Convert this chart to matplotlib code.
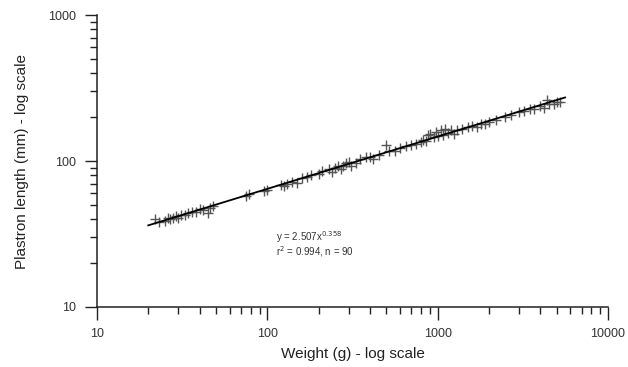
import matplotlib.pyplot as plt
import numpy as np

plt.rcParams['font.family'] = ['Liberation Sans', 'DejaVu Sans']

# weight (g) and plastron length (mm)
weight = [22, 23, 25, 26, 27, 28, 29, 30, 31, 33,
          34, 36, 38, 40, 42, 45, 46, 48, 75, 78,
          95, 100, 120, 125, 130, 140, 150, 160, 170, 180,
          200, 210, 230, 240, 250, 260, 270, 280, 290, 300,
          310, 330, 350, 380, 400, 420, 450, 500, 520, 560,
          600, 650, 700, 750, 800, 820, 850, 880, 900, 950,
          980, 1000, 1050, 1080, 1100, 1150, 1200, 1250, 1300, 1400,
          1500, 1600, 1700, 1800, 1900, 2000, 2200, 2500, 2700, 3000,
          3200, 3500, 3700, 4000, 4200, 4400, 4500, 4800, 5000, 5200]
plastron = [40, 38, 39, 41, 40, 41, 42, 41, 43, 43,
            44, 45, 45, 47, 46, 44, 48, 49, 58, 59,
            62, 63, 68, 67, 70, 72, 71, 76, 78, 80,
            82, 85, 88, 84, 90, 92, 88, 93, 97, 99,
            92, 97, 104, 107, 106, 104, 110, 128, 118, 117,
            122, 126, 129, 131, 136, 140, 138, 150, 152, 145,
            158, 148, 162, 150, 165, 156, 164, 154, 162, 166,
            170, 174, 170, 180, 178, 186, 192, 200, 208, 216,
            220, 228, 226, 238, 232, 262, 245, 244, 255, 252]

# fitted power law as drawn in the figure
fit_a = 12.4
fit_b = 0.358
fit_x = np.array([20, 5600])

fig = plt.figure(figsize=(6.28, 3.67), dpi=100)
ax = fig.add_axes([0.1545, 0.1635, 0.8135, 0.7955])

ax.plot(weight, plastron, '+', color='#555555', markersize=7, markeredgewidth=1.0)
ax.plot(fit_x, fit_a * fit_x ** fit_b, color='black', linewidth=1.3)

ax.set_xscale('log')
ax.set_yscale('log')
ax.set_xlim(10, 10000)
ax.set_ylim(10, 1000)

for s in ['top', 'right']:
    ax.spines[s].set_visible(False)
for s in ['left', 'bottom']:
    ax.spines[s].set_linewidth(1.1)
    ax.spines[s].set_color('#222222')

ax.set_xticks([10, 100, 1000, 10000])
ax.set_xticklabels(['10', '100', '1000', '10000'])
ax.set_yticks([10, 100, 1000])
ax.set_yticklabels(['10', '100', '1000'])
ax.tick_params(which='major', length=9, width=1, color='#222222', labelsize=9,
               labelcolor='#333333', pad=6)
ax.tick_params(which='minor', length=5, width=1, color='#222222')

ax.set_xlabel('Weight (g) - log scale', fontsize=11, color='#222222', labelpad=5)
ax.set_ylabel('Plastron length (mm) - log scale', fontsize=11, color='#222222', labelpad=14)

ax.text(113, 28.3, 'y = 2.507x$^{0.358}$', fontsize=7, color='#333333')
ax.text(113, 22.7, 'r$^2$ = 0.994, n = 90', fontsize=7, color='#333333')

fig.savefig('out.png', dpi=100)
